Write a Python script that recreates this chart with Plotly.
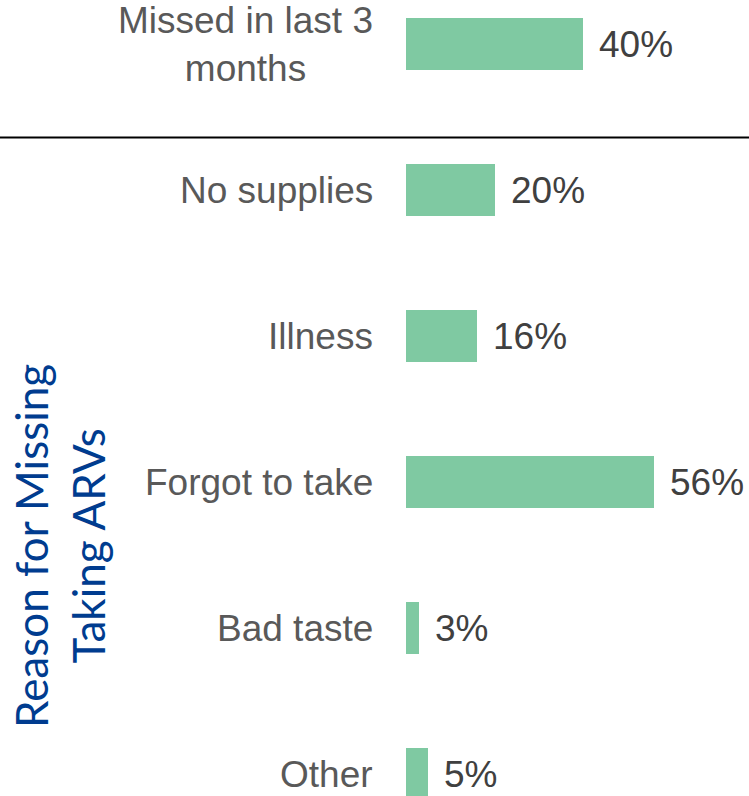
import plotly.graph_objects as go

# Reasons for missing ARV doses (share of respondents, %)
categories = [
    "Missed in last 3<br>months",
    "No supplies",
    "Illness",
    "Forgot to take",
    "Bad taste",
    "Other",
]
values = [40, 20, 16, 56, 3, 5]
axis_title = "Reason for Missing<br>Taking ARVs"

W, H = 749, 796
LEFT = 406
plot_w = W - LEFT

bar_color = "#7FC9A2"
label_color = "#595959"
value_color = "#404040"
title_color = "#003C8F"
font_main = "Liberation Sans, Arial, sans-serif"

fig = go.Figure()
fig.add_trace(
    go.Bar(
        x=values,
        y=categories,
        orientation="h",
        width=0.355,
        marker=dict(color=bar_color, line=dict(width=0)),
        hoverinfo="skip",
    )
)

annotations = []
# category labels, right-aligned next to the bars, multi-line text centred
for c in categories:
    annotations.append(
        dict(
            x=0, xref="paper", y=c, yref="y",
            text=c, showarrow=False,
            xanchor="right", yanchor="middle", xshift=-31,
            align="center",
            font=dict(family=font_main, size=37, color=label_color),
        )
    )
# value labels at the bar ends
for c, v in zip(categories, values):
    annotations.append(
        dict(
            x=v, xref="x", y=c, yref="y",
            text=f"{v}%", showarrow=False,
            xanchor="left", yanchor="middle", xshift=14,
            font=dict(family=font_main, size=37, color=value_color),
        )
    )
# rotated axis title
annotations.append(
    dict(
        x=(59 - LEFT) / plot_w, xref="paper",
        y=1 - 546 / H, yref="paper",
        text=axis_title, showarrow=False, textangle=-90,
        xanchor="center", yanchor="middle", align="center",
        font=dict(family="Lato, Carlito, Calibri, sans-serif", size=44, color=title_color),
    )
)

fig.update_layout(
    width=W,
    height=H,
    margin=dict(l=LEFT, r=0, t=0, b=0, pad=0),
    paper_bgcolor="white",
    plot_bgcolor="white",
    showlegend=False,
    bargap=0,
    annotations=annotations,
    shapes=[
        dict(
            type="line", xref="paper", yref="paper",
            x0=-LEFT / plot_w, x1=1,
            y0=1 - 137.5 / H, y1=1 - 137.5 / H,
            line=dict(color="black", width=2),
        )
    ],
    xaxis=dict(
        range=[0, plot_w / 4.43],
        showticklabels=False, showgrid=False, zeroline=False, showline=False,
        fixedrange=True,
    ),
    yaxis=dict(
        type="category",
        categoryorder="array",
        categoryarray=categories,
        range=[5 + 22 / 146, -44 / 146],
        showticklabels=False, showgrid=False, zeroline=False, showline=False,
        fixedrange=True,
    ),
)

fig.write_html("out.html")
